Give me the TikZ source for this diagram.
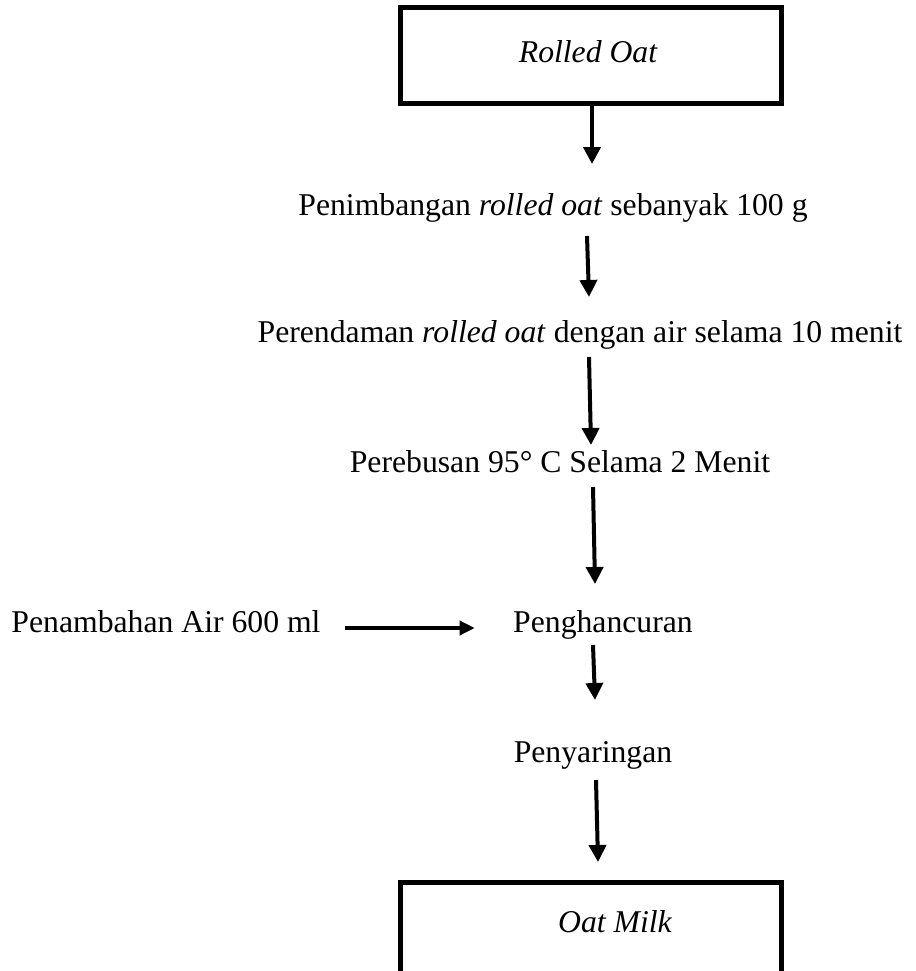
\documentclass[tikz,border=0pt]{standalone}
\usepackage{fontspec}
\setmainfont{Liberation Serif}
\usetikzlibrary{arrows.meta}
\begin{document}
\begin{tikzpicture}[x=1pt,y=-1pt,
  stage/.style={font=\fontsize{31.7}{38}\selectfont, inner sep=0pt, anchor=base},
  endbox/.style={draw, line width=5pt, minimum width=381pt, inner sep=0pt},
  flow/.style={line width=4pt, -{Triangle[length=17pt,width=17pt]}},
  side/.style={line width=3.5pt, -{Triangle[length=15pt,width=14pt]}}]
\useasboundingbox (0,0) rectangle (915,971);
\clip (0,0) rectangle (915,971);

% start and end boxes
\node[endbox, minimum height=96pt] (raw) at (590.5,56) {};
\node[stage] (rawtxt) at (588,63) {\itshape Rolled Oat};
\node[endbox, minimum height=200pt] (milk) at (590.5,982) {};
\node[stage] (milktxt) at (615,932) {\itshape Oat Milk};

% process steps
\node[stage] (s1) at (553,215) {Penimbangan \textit{rolled oat} sebanyak 100 g};
\node[stage] (s2) at (580,342) {Perendaman \textit{rolled oat} dengan air selama 10 menit};
\node[stage] (s3) at (560,472) {Perebusan 95° C Selama 2 Menit};
\node[stage] (s4) at (603,632) {Penghancuran};
\node[stage] (add) at (166,632) {Penambahan Air 600 ml};
\node[stage] (s5) at (593,762) {Penyaringan};

% flow arrows
\draw[flow] (raw.south) ++(1.5,0) -- ++(0,57.5);
\draw[flow] (s1.base) ++(34,21) -- ++(2,61);
\draw[flow] (s2.base) ++(9,15) -- ++(2,88);
\draw[flow] (s3.base) ++(33,15) -- ++(2,97);
\draw[flow] (s4.base) ++(-10,13) -- ++(2,55);
\draw[flow] (s5.base) ++(3,18) -- ++(2,82);
\draw[side] (add.base east) ++(24,-4) -- ++(130,0);
\end{tikzpicture}
\end{document}
